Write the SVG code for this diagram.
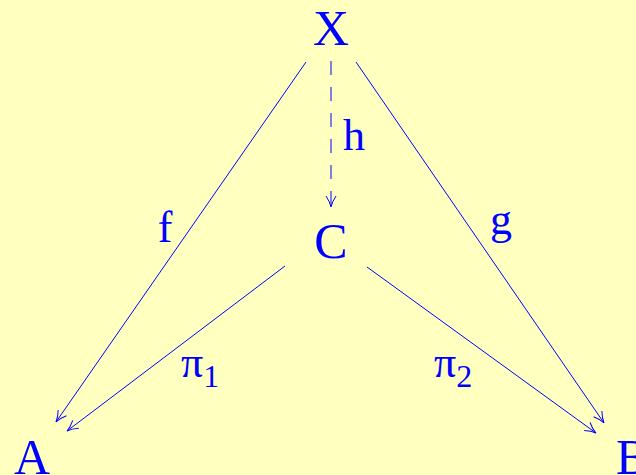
<svg xmlns="http://www.w3.org/2000/svg" width="636" height="475" viewBox="0 0 636 475">
<defs>
<marker id="ah" viewBox="-12 -6 14 12" refX="0" refY="0" markerWidth="14" markerHeight="12" markerUnits="userSpaceOnUse" orient="auto">
<path d="M-11,-5 Q-5,-1 0,0 Q-5,1 -11,5" fill="none" stroke="#0000ff" stroke-width="1"/>
</marker>
</defs>
<style>
.n{font-family:"Liberation Serif","DejaVu Serif",serif;font-size:50px;fill:#0000ff}
.l{font-family:"Liberation Serif","DejaVu Serif",serif;font-size:44px;fill:#0000ff}
.s{font-size:32px}
.e{fill:none;stroke:#0000ff;stroke-width:1}
</style>
<rect width="636" height="475" fill="#ffffc0"/>
<g id="connectors">
<line class="e" x1="306" y1="62" x2="56" y2="422" marker-end="url(#ah)"/>
<line class="e" x1="356" y1="62" x2="604" y2="423" marker-end="url(#ah)"/>
<line class="e" x1="285" y1="266" x2="67" y2="431" marker-end="url(#ah)"/>
<line class="e" x1="367" y1="267" x2="596" y2="433" marker-end="url(#ah)"/>
<line class="e" x1="331" y1="61" x2="331" y2="207" stroke-dasharray="14 12" marker-end="url(#ah)"/>
<text class="l" x="165" y="242" text-anchor="middle">f</text>
<text class="l" x="354" y="150" text-anchor="middle">h</text>
<text class="l" x="501" y="234" text-anchor="middle">g</text>
<text class="l" x="181" y="377">π<tspan class="s" dy="10">1</tspan></text>
<text class="l" x="434" y="377">π<tspan class="s" dy="10">2</tspan></text>
</g>
<g id="X"><text class="n" x="331" y="45" text-anchor="middle">X</text></g>
<g id="C"><text class="n" x="331" y="258" text-anchor="middle">C</text></g>
<g id="A"><text class="n" x="32" y="474" text-anchor="middle">A</text></g>
<g id="B"><text class="n" x="616" y="474">B</text></g>
</svg>
